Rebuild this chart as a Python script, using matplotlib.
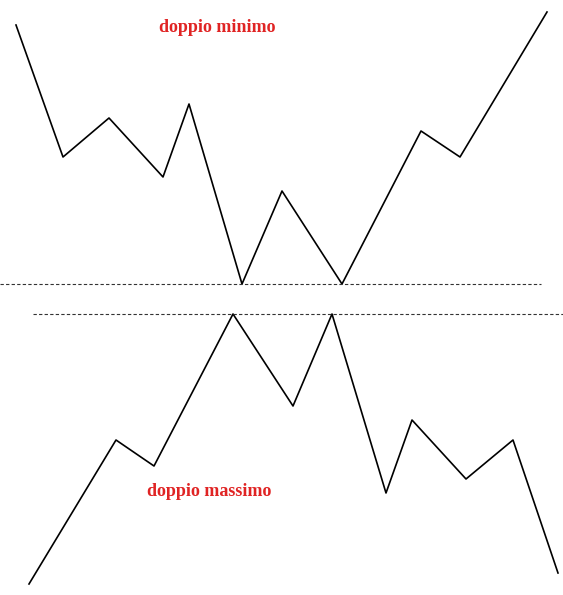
import matplotlib
matplotlib.use("Agg")
import matplotlib.pyplot as plt

# double bottom (top half), pixel-like coordinates of the reference
bottom_x = [16, 63, 109, 163, 189, 242, 282, 342, 421, 460, 547]
bottom_y = [25, 157, 118, 177, 104, 284, 191, 284, 131, 157, 12]

# double top (lower half)
top_x = [29, 116, 154, 233, 293, 332, 386, 412, 466, 513, 558]
top_y = [584, 440, 466, 314, 406, 314, 493, 420, 479, 440, 573]

support_level = 284
resistance_level = 314

fig = plt.figure(figsize=(5.63, 5.95), dpi=100)
ax = fig.add_axes([0, 0, 1, 1])
ax.set_xlim(0, 563)
ax.set_ylim(595, 0)
ax.axis('off')

ax.plot(bottom_x, bottom_y, color='black', lw=1.2)
ax.plot(top_x, top_y, color='black', lw=1.2)

ax.plot([0, 541], [support_level, support_level], color='#333333', lw=0.8, ls=(0, (3, 2)))
ax.plot([33, 563], [resistance_level, resistance_level], color='#333333', lw=0.8, ls=(0, (3, 2)))

ax.text(217, 27, 'doppio minimo', color='#e02424', fontsize=13, fontweight='bold',
        family='Liberation Serif', ha='center', va='center')
ax.text(209, 492, 'doppio massimo', color='#e02424', fontsize=13, fontweight='bold',
        family='Liberation Serif', ha='center', va='center')

fig.savefig('out.png', dpi=100)
